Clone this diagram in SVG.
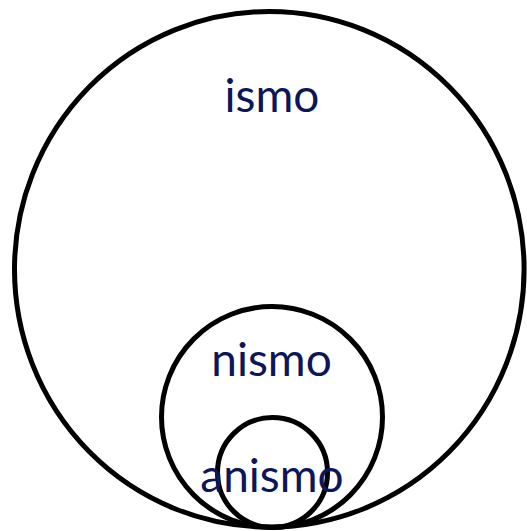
<svg xmlns="http://www.w3.org/2000/svg" width="527" height="531" viewBox="0 0 527 531">
<style>
.c{fill:none;stroke:#000;stroke-width:5}
.t{font-family:Lato,"Open Sans",sans-serif;font-size:46px;fill:#0c1658;text-anchor:middle}
</style>
<rect width="527" height="531" fill="#fff"/>
<g id="ismo">
<ellipse class="c" cx="269.3" cy="269.3" rx="254.8" ry="257.8"/>
<text class="t" x="272" y="112">ismo</text>
</g>
<g id="nismo">
<circle class="c" cx="272" cy="417" r="110.5"/>
<text class="t" x="271.5" y="376">nismo</text>
</g>
<g id="anismo">
<circle class="c" cx="272.5" cy="472.5" r="55"/>
<text class="t" x="272" y="492">anismo</text>
</g>
<g id="connectors"/>
</svg>
